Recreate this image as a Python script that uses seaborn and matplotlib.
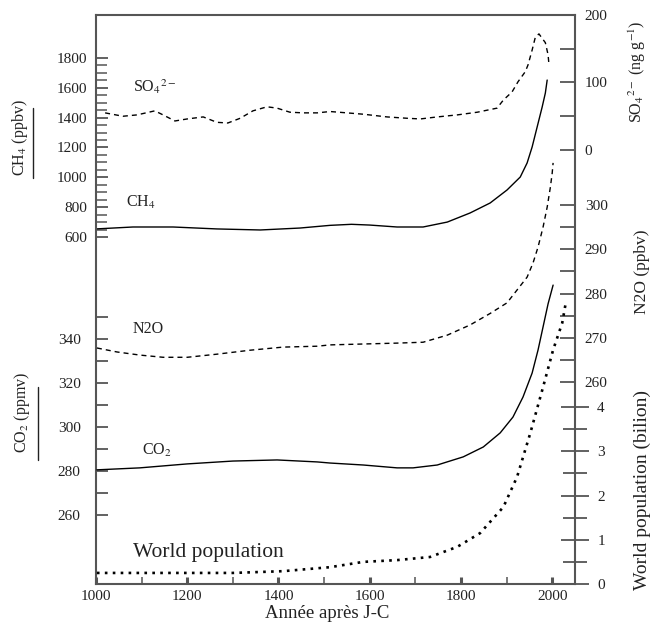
import numpy as np
import pandas as pd
import matplotlib
matplotlib.use("Agg")
import matplotlib.pyplot as plt
from matplotlib.lines import Line2D
import seaborn as sns

# ---------------- data ----------------
so4_years = [1020, 1059, 1090, 1129, 1147, 1173, 1200, 1235, 1265, 1289, 1316, 1344, 1375,
             1397, 1425, 1454, 1485, 1513, 1550, 1586, 1638, 1682, 1711, 1748, 1792, 1836,
             1879, 1893, 1912, 1925, 1941, 1947, 1956, 1963, 1971, 1985, 1991, 1993]
so4_values = [55, 50, 52, 58, 52, 43, 46, 49, 41, 40, 47, 58, 64,
              62, 56, 55, 55, 57, 55, 53, 49, 47, 46, 49, 52, 56,
              62, 74, 86, 101, 116, 126, 148, 167, 172, 159, 141, 126]

ch4_years = [1000, 1081, 1169, 1265, 1360, 1447, 1513, 1560, 1600, 1660, 1717, 1770, 1820,
             1864, 1901, 1930, 1945, 1956, 1967, 1978, 1985, 1989]
ch4_values = [654, 667, 667, 654, 647, 660, 678, 685, 680, 667, 667, 700, 761,
              828, 915, 1002, 1096, 1203, 1337, 1471, 1565, 1652]

n2o_years = [1002, 1046, 1096, 1147, 1200, 1265, 1338, 1410, 1485, 1513, 1586, 1660, 1717,
             1770, 1820, 1864, 1901, 1923, 1945, 1958, 1969, 1980, 1989, 1996, 2000, 2002]
n2o_values = [267.7, 266.8, 266.1, 265.6, 265.6, 266.3, 267.2, 267.9, 268.1, 268.4, 268.6,
              268.8, 269.0, 270.6, 272.9, 275.5, 277.9, 280.8, 283.7, 286.9, 290.5, 295.0,
              299.5, 304.0, 307.2, 309.5]

co2_years = [1002, 1096, 1200, 1300, 1397, 1485, 1513, 1586, 1660, 1695, 1748, 1805, 1849,
             1886, 1914, 1936, 1956, 1969, 1980, 1991, 2002]
co2_values = [280.5, 281.4, 283.2, 284.5, 285.0, 284.1, 283.6, 282.7, 281.4, 281.4, 282.7,
              286.4, 290.9, 297.3, 304.5, 313.6, 324.5, 335.0, 345.5, 356.0, 364.5]

pop_years = [1002, 1156, 1300, 1410, 1513, 1586, 1660, 1732, 1792, 1842, 1893, 1923, 1952,
             1980, 2002, 2022, 2029]
pop_values = [0.25, 0.25, 0.25, 0.29, 0.38, 0.50, 0.54, 0.61, 0.84, 1.15, 1.74, 2.42, 3.41,
              4.45, 5.29, 5.90, 6.31]

x_major = [1000, 1200, 1400, 1600, 1800, 2000]
x_minor = [1100, 1300, 1500, 1700, 1900]
ch4_major = [600, 800, 1000, 1200, 1400, 1600, 1800]
co2_major = [260, 280, 300, 320, 340]
so4_major = [0, 100, 200]
n2o_major = [260, 270, 280, 290, 300]
pop_major = [0, 1, 2, 3, 4]

# ---------------- style ----------------
sns.set_style("ticks")
plt.rcParams["font.family"] = ["Liberation Serif", "DejaVu Serif"]
plt.rcParams["mathtext.fontset"] = "stix"
plt.rcParams["axes.unicode_minus"] = False

TXT = "#222222"
SPN = "#555555"

fig = plt.figure(figsize=(6.51, 6.23), dpi=100)
ax = fig.add_axes([96 / 651, 39 / 623, 479 / 651, 569 / 623])

ax_co2 = ax.twinx()
ax_so4 = ax.twinx()
ax_n2o = ax.twinx()
ax_pop = ax.twinx()

dash = (0, (3.6, 2.9))
dots = (0, (1, 2))

sns.lineplot(x=ch4_years, y=ch4_values, ax=ax, color="black", lw=1.0,
             sort=False, estimator=None)
sns.lineplot(x=co2_years, y=co2_values, ax=ax_co2, color="black", lw=1.0,
             sort=False, estimator=None)
sns.lineplot(x=so4_years, y=so4_values, ax=ax_so4, color="black", lw=1.0,
             linestyle=dash, sort=False, estimator=None)
sns.lineplot(x=n2o_years, y=n2o_values, ax=ax_n2o, color="black", lw=1.0,
             linestyle=dash, sort=False, estimator=None)
sns.lineplot(x=pop_years, y=pop_values, ax=ax_pop, color="black", lw=1.9,
             linestyle=dots, sort=False, estimator=None)

for a in (ax, ax_co2, ax_so4, ax_n2o, ax_pop):
    a.set_xlabel("")
    a.set_ylabel("")

ax.set_xlim(1000, 2050)

# y ranges chosen so the separate scales sit where they do in the reference
ax.set_ylim(-1726, 2088)
ax_co2.set_ylim(228.6, 487.3)
ax_so4.set_ylim(-643, 200)
ax_n2o.set_ylim(214.4, 342.9)
ax_pop.set_ylim(0, 12.86)

# spines
for s in ax.spines.values():
    s.set_visible(True)
    s.set_color(SPN)
    s.set_linewidth(1.5)
for a in (ax_co2, ax_so4, ax_n2o, ax_pop):
    for s in a.spines.values():
        s.set_visible(False)

# x axis
ax.set_xticks(x_major)
ax.set_xticks(x_minor, minor=True)
ax.tick_params(axis="x", which="major", direction="in", length=5, width=2.2,
               color=SPN, labelsize=11, labelcolor=TXT, pad=4, top=False)
ax.tick_params(axis="x", which="minor", direction="in", length=5, width=1.1,
               color=SPN, top=False)
ax.set_xlabel("Année après J-C", fontsize=13.5, color=TXT)
ax.xaxis.set_label_coords(0.482, -0.0527)
ax.xaxis.label.set_verticalalignment("center")

# CH4 axis (left, upper)
ax.yaxis.tick_left()
ax.set_yticks(ch4_major)
ax.set_yticks([v for v in range(650, 1800, 50) if v % 200 != 0], minor=True)
ax.tick_params(axis="y", which="major", direction="in", length=8.5, width=1.3,
               color=SPN, labelsize=11, labelcolor=TXT, pad=6, right=False)
ax.tick_params(axis="y", which="minor", direction="in", length=8, width=1.1,
               color=SPN, right=False)
ax.set_ylabel("CH$_4$ (ppbv)", fontsize=11.5, color=TXT)
ax.yaxis.set_label_coords(-0.159, 0.784)
ax.yaxis.label.set_verticalalignment("center")

# CO2 axis (left, lower)
ax_co2.yaxis.tick_left()
ax_co2.yaxis.set_label_position("left")
ax_co2.set_yticks(co2_major)
ax_co2.set_yticks([270, 290, 310, 330, 350], minor=True)
ax_co2.tick_params(axis="y", which="both", direction="in", length=8.5, width=1.3,
                   color=SPN, labelsize=11, labelcolor=TXT, pad=11, right=False)
ax_co2.set_ylabel("CO$_2$ (ppmv)", fontsize=11.5, color=TXT)
ax_co2.yaxis.set_label_coords(-0.154, 0.302)
ax_co2.yaxis.label.set_verticalalignment("center")

# SO4 axis (right, upper)
ax_so4.yaxis.tick_right()
ax_so4.set_yticks(so4_major)
ax_so4.set_yticks([50, 150], minor=True)
ax_so4.tick_params(axis="y", which="both", direction="in", length=11, width=1.3,
                   color=SPN, labelsize=11, labelcolor=TXT, pad=7, left=False)
ax_so4.set_ylabel("SO$_4$$^{2-}$ (ng g$^{-1}$)", fontsize=11.5, color=TXT)
ax_so4.yaxis.set_label_coords(1.131, 0.90)
ax_so4.yaxis.label.set_verticalalignment("center")

# N2O axis (right, middle)
ax_n2o.yaxis.tick_right()
ax_n2o.set_yticks(n2o_major)
ax_n2o.set_yticks([265, 275, 285, 295], minor=True)
ax_n2o.tick_params(axis="y", which="both", direction="in", length=11, width=1.3,
                   color=SPN, labelsize=11, labelcolor=TXT, pad=7, left=False)
ax_n2o.set_ylabel("N2O (ppbv)", fontsize=12.5, color=TXT)
ax_n2o.yaxis.set_label_coords(1.140, 0.548)
ax_n2o.yaxis.label.set_verticalalignment("center")

# population axis (right, lower)
ax_pop.yaxis.tick_right()
ax_pop.set_yticks(pop_major)
ax_pop.set_yticks([0.5, 1.5, 2.5, 3.5], minor=True)
ax_pop.tick_params(axis="y", which="major", direction="inout", length=20, width=1.3,
                   color=SPN, labelsize=11, labelcolor=TXT, pad=6, left=False)
ax_pop.tick_params(axis="y", which="minor", direction="inout", length=17, width=1.3,
                   color=SPN, left=False)
ax_pop.set_ylabel("World population (bilion)", fontsize=14, color=TXT)
ax_pop.yaxis.set_label_coords(1.140, 0.165)
ax_pop.yaxis.label.set_verticalalignment("center")

# curve labels
lab = dict(transform=ax.transAxes, ha="left", va="center", color=TXT)
ax.text(0.0772, 0.8735, "SO$_4$$^{2-}$", fontsize=11.5, **lab)
ax.text(0.0626, 0.6714, "CH$_4$", fontsize=11.5, **lab)
ax.text(0.0772, 0.448, "N2O", fontsize=11.5, **lab)
ax.text(0.096, 0.2355, "CO$_2$", fontsize=11.5, **lab)
ax.text(0.0772, 0.0562, "World population", fontsize=15.5, **lab)

# underlines beside the two left axis titles
fig.add_artist(Line2D([33 / 651, 33 / 651], [1 - 108 / 623, 1 - 178 / 623],
                      color=TXT, lw=1.0, transform=fig.transFigure))
fig.add_artist(Line2D([38 / 651, 38 / 651], [1 - 387 / 623, 1 - 460 / 623],
                      color=TXT, lw=1.0, transform=fig.transFigure))

fig.savefig("out.png", dpi=100, facecolor="white")
